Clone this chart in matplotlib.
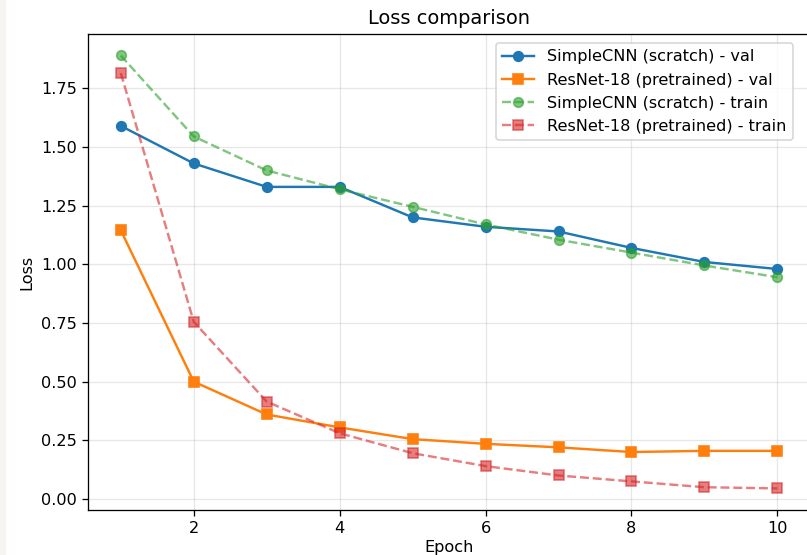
import matplotlib.pyplot as plt
from matplotlib.patches import Rectangle

# loss per epoch for both models
epochs = [1, 2, 3, 4, 5, 6, 7, 8, 9, 10]
simplecnn_val = [1.59, 1.43, 1.33, 1.33, 1.20, 1.16, 1.14, 1.07, 1.01, 0.98]
resnet_val = [1.145, 0.50, 0.36, 0.305, 0.255, 0.235, 0.22, 0.20, 0.205, 0.205]
simplecnn_train = [1.89, 1.545, 1.40, 1.32, 1.245, 1.17, 1.105, 1.05, 0.995, 0.945]
resnet_train = [1.815, 0.755, 0.415, 0.28, 0.195, 0.14, 0.10, 0.075, 0.05, 0.045]

dpi = 116
fig = plt.figure(figsize=(807 / dpi, 555 / dpi), dpi=dpi)
fig.patches.append(Rectangle((0, 0), 0.008, 1, transform=fig.transFigure,
                             facecolor='#f7f5f1', edgecolor='none', zorder=0))
ax = fig.add_axes([0.109, 0.081, 0.895, 0.858])

ax.plot(epochs, simplecnn_val, marker='o', color='tab:blue', label='SimpleCNN (scratch) - val')
ax.plot(epochs, resnet_val, marker='s', color='tab:orange', label='ResNet-18 (pretrained) - val')
ax.plot(epochs, simplecnn_train, marker='o', linestyle='--', color='tab:green', alpha=0.6,
        label='SimpleCNN (scratch) - train')
ax.plot(epochs, resnet_train, marker='s', linestyle='--', color='tab:red', alpha=0.6,
        label='ResNet-18 (pretrained) - train')

ax.set_title('Loss comparison')
ax.set_xlabel('Epoch', labelpad=2)
ax.set_ylabel('Loss')
ax.grid(True, alpha=0.3)
ax.legend(loc='upper right', bbox_to_anchor=(793 / 807, 1 - 43 / 555),
          bbox_transform=fig.transFigure, borderaxespad=0)

fig.savefig('out.png', dpi=dpi)
